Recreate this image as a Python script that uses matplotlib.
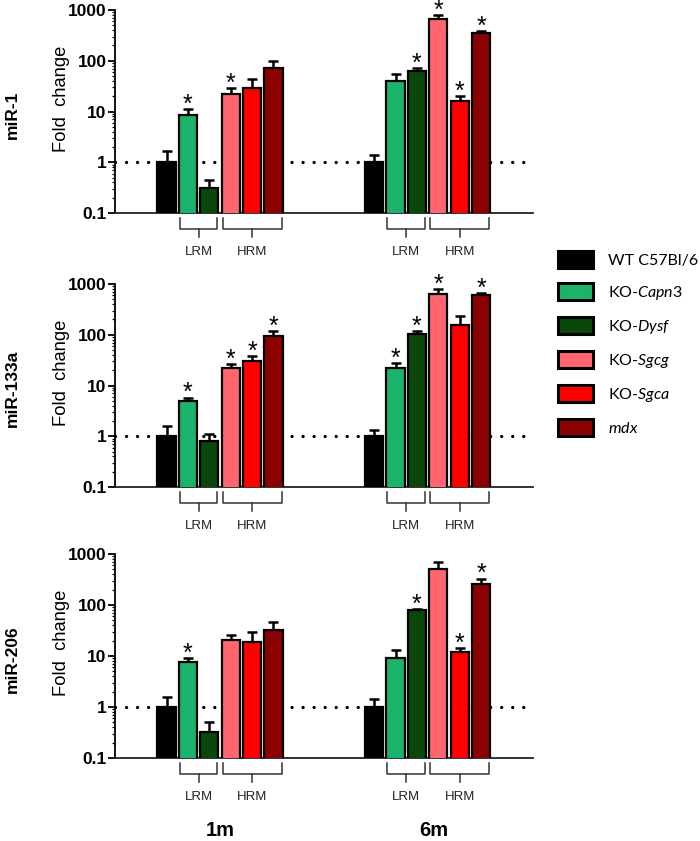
import numpy as np
import matplotlib
matplotlib.use("Agg")
import matplotlib.pyplot as plt
from matplotlib.patches import Patch
from matplotlib.ticker import FixedLocator, FixedFormatter, LogLocator, NullFormatter
from matplotlib.transforms import blended_transform_factory

plt.rcParams["font.family"] = ["Liberation Sans", "DejaVu Sans"]
plt.rcParams["mathtext.fontset"] = "custom"
plt.rcParams["mathtext.rm"] = "Lato"
plt.rcParams["mathtext.it"] = "Lato:italic"

# ---- data ----
time_points = ["1m", "6m"]
strains = ["WT C57Bl/6", "KO-Capn3", "KO-Dysf", "KO-Sgcg", "KO-Sgca", "mdx"]
legend_labels = ["WT C57Bl/6", r"KO-$\it{Capn3}$", r"KO-$\it{Dysf}$",
                 r"KO-$\it{Sgcg}$", r"KO-$\it{Sgca}$", r"$\it{mdx}$"]
colors = ["#000000", "#1bb36a", "#0b460b", "#ff6670", "#ff0000", "#8b0000"]
mirnas = ["miR-1", "miR-133a", "miR-206"]

mir1_1m = [1.0, 8.7, 0.31, 22.6, 29, 73]
mir1_1m_err = [0.7, 2.3, 0.13, 6.4, 14, 27]
mir1_1m_sig = [0, 1, 0, 1, 0, 0]
mir1_6m = [1.0, 40, 64, 650, 16, 345]
mir1_6m_err = [0.37, 16, 9, 160, 4, 40]
mir1_6m_sig = [0, 0, 1, 1, 1, 1]

mir133a_1m = [1.0, 5.0, 0.81, 22.5, 31, 93]
mir133a_1m_err = [0.57, 0.8, 0.29, 4.5, 7, 25]
mir133a_1m_sig = [0, 1, 0, 1, 1, 1]
mir133a_6m = [1.0, 22, 105, 640, 158, 595]
mir133a_6m_err = [0.35, 6, 13, 160, 77, 65]
mir133a_6m_sig = [0, 1, 1, 1, 0, 1]

mir206_1m = [1.0, 7.6, 0.32, 21, 18.8, 33]
mir206_1m_err = [0.57, 1.7, 0.19, 5, 10.7, 13]
mir206_1m_sig = [0, 1, 0, 0, 0, 0]
mir206_6m = [1.0, 9.3, 78.6, 515, 12, 262]
mir206_6m_err = [0.44, 4, 6.4, 180, 2.5, 68]
mir206_6m_sig = [0, 0, 1, 0, 1, 1]

panels = [
    ([mir1_1m, mir1_6m], [mir1_1m_err, mir1_6m_err], [mir1_1m_sig, mir1_6m_sig]),
    ([mir133a_1m, mir133a_6m], [mir133a_1m_err, mir133a_6m_err], [mir133a_1m_sig, mir133a_6m_sig]),
    ([mir206_1m, mir206_6m], [mir206_1m_err, mir206_6m_err], [mir206_1m_sig, mir206_6m_sig]),
]

# ---- layout ----
fig = plt.figure(figsize=(7.0, 8.41), dpi=100)
W, H = 700, 841
ax_left, ax_right = 115, 533
ax_tops = [10, 284, 554]
ax_bots = [213, 487, 758]

step = 0.103
width = 0.088
lrm_span = (1, 2)
hrm_span = (3, 5)

for p, (vals, errs, sigs) in enumerate(panels):
    ax = fig.add_axes([ax_left / W, 1 - ax_bots[p] / H,
                       (ax_right - ax_left) / W, (ax_bots[p] - ax_tops[p]) / H])
    ax.set_yscale("log")
    ax.set_ylim(0.1, 1000)
    ax.set_xlim(-0.506, 1.508)
    ax.axhline(1, color="black", lw=2.4, ls=(0, (0.01, 3.3)),
               dash_capstyle="round", zorder=1)

    tr = blended_transform_factory(ax.transData, ax.transAxes)
    for g, tp in enumerate(time_points):
        offs = g + (np.arange(len(strains)) - 2.5) * step
        ax.bar(offs, vals[g], width=width, color=colors, edgecolor="black",
               linewidth=1.6, zorder=3)
        ax.errorbar(offs, vals[g], yerr=[np.zeros(len(strains)), errs[g]],
                    fmt="none", ecolor="black", elinewidth=1.8, capsize=3.5,
                    capthick=1.8, zorder=2)
        for i, s in enumerate(sigs[g]):
            if s:
                ax.annotate("*", (offs[i], vals[g][i] + errs[g][i]),
                            xytext=(0, -2), textcoords="offset points",
                            ha="center", va="baseline", fontsize=18, zorder=5,
                            annotation_clip=False)
        # brackets
        for (a, b), lab in [(lrm_span, "LRM"), (hrm_span, "HRM")]:
            x0 = offs[a] - width / 2 + 0.005
            x1 = offs[b] + width / 2 - 0.005
            xm = (x0 + x1) / 2
            y0, y1, y2 = -0.025, -0.078, -0.12
            ax.plot([x0, x0, x1, x1], [y0, y1, y1, y0], color="#333333",
                    lw=1.1, transform=tr, clip_on=False, solid_joinstyle="round")
            ax.plot([xm, xm], [y1, y2], color="#333333", lw=1.1,
                    transform=tr, clip_on=False)
            ax.text(xm, -0.19, lab, transform=tr, ha="center", va="center",
                    fontsize=9.5, color="#222222")
        if p == 2:
            ax.text(g + 0.03 * g, -0.355, tp, transform=tr, ha="center",
                    va="center", fontsize=14.5, fontweight="bold")

    ax.spines["top"].set_visible(False)
    ax.spines["right"].set_visible(False)
    ax.spines["left"].set_linewidth(1.3)
    ax.spines["bottom"].set_linewidth(1.3)
    ax.spines["bottom"].set_color("#222222")
    ax.set_xticks([])
    ax.yaxis.set_major_locator(FixedLocator([0.1, 1, 10, 100, 1000]))
    ax.yaxis.set_major_formatter(FixedFormatter(["0.1", "1", "10", "100", "1000"]))
    ax.yaxis.set_minor_locator(LogLocator(base=10, subs=np.arange(2, 10)))
    ax.yaxis.set_minor_formatter(NullFormatter())
    ax.tick_params(axis="y", which="major", length=5, width=1.3, pad=1,
                   labelsize=12.5)
    ax.tick_params(axis="y", which="minor", length=2.5, width=0.9)
    for t in ax.get_yticklabels():
        t.set_fontweight("bold")
    mid = (ax_tops[p] + ax_bots[p]) / 2
    fig.text(62 / W, 1 - (mid - 13) / H, "Fold  change", rotation=90,
             ha="center", va="center", fontsize=13.2)
    fig.text(12 / W, 1 - (mid + 3) / H, mirnas[p],
             rotation=90, ha="center", va="center", fontsize=12.5,
             fontweight="bold")

handles = [Patch(facecolor=c, edgecolor="black", linewidth=2.2) for c in colors]
fig.legend(handles, legend_labels, loc="upper left",
           bbox_to_anchor=(558 / W, 1 - 251 / H), frameon=False,
           prop={"family": "Lato", "size": 11.5}, handlelength=2.2,
           handleheight=1.25, labelspacing=0.95, handletextpad=0.9,
           borderpad=0, borderaxespad=0)

fig.savefig("out.png", dpi=100)
